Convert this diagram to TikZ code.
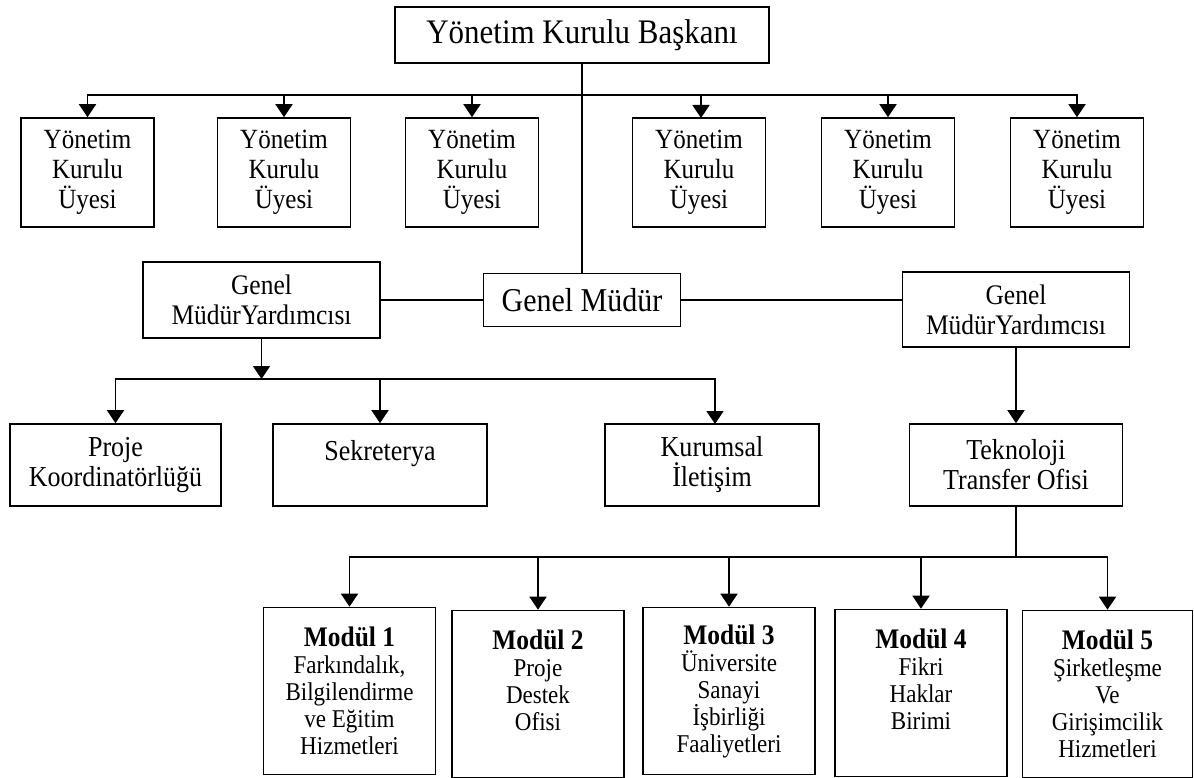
\documentclass[tikz,border=0pt]{standalone}
\usepackage{fontspec}
\setmainfont{Liberation Serif}[FakeStretch=0.9]
\usetikzlibrary{arrows.meta}
\begin{document}
\begin{tikzpicture}[x=1pt,y=-1pt,
  box/.style={draw, line width=1.6pt, inner sep=0pt, align=center},
  mem/.style={box, minimum width=133pt, minimum height=109pt, font=\fontsize{27.8}{30}\selectfont},
  mid/.style={box, minimum width=213pt, minimum height=82pt, font=\fontsize{28.9}{30}\selectfont},
  modbox/.style={box, minimum width=172pt, minimum height=167pt, font=\fontsize{25.6}{27}\selectfont},
  conn/.style={line width=1.7pt, line cap=rect},
  arr/.style={line width=1.7pt, -{Triangle[width=17pt,length=13pt]}}]
\useasboundingbox (0,0) rectangle (1194,778);

% top
\node[box, minimum width=374pt, minimum height=56pt, font=\fontsize{34.4}{38}\selectfont] (top) at (582,35) {Yönetim Kurulu Başkanı};

% members
\node[mem] (m1) at (87.5,172.5) {Yönetim\\Kurulu\\Üyesi};
\node[mem] (m2) at (284,172.5) {Yönetim\\Kurulu\\Üyesi};
\node[mem] (m3) at (472,172.5) {Yönetim\\Kurulu\\Üyesi};
\node[mem] (m4) at (699,172.5) {Yönetim\\Kurulu\\Üyesi};
\node[mem] (m5) at (888,172.5) {Yönetim\\Kurulu\\Üyesi};
\node[mem] (m6) at (1077,172.5) {Yönetim\\Kurulu\\Üyesi};

% general manager level
\node[box, minimum width=197pt, minimum height=53pt, font=\fontsize{33.3}{36}\selectfont] (gm) at (582,300) {Genel Müdür};
\node[box, minimum width=237pt, minimum height=76pt, font=\fontsize{28.3}{30}\selectfont] (gmyl) at (261.5,300) {Genel\\MüdürYardımcısı};
\node[box, minimum width=227pt, minimum height=75pt, font=\fontsize{28.3}{30}\selectfont] (gmyr) at (1016,309.5) {Genel\\MüdürYardımcısı};

% middle row
\node[mid, minimum width=211pt] (proje) at (115.5,465) {Proje\\Koordinatörlüğü};
\node[mid, minimum width=214pt] (sek) at (380,465) {Sekreterya\\\mbox{}};
\node[mid, minimum width=214pt] (kur) at (712,465) {Kurumsal\\İletişim};
\node[mid] (tto) at (1016,465) {Teknoloji\\Transfer Ofisi};

% modules
\node[modbox] (mod1) at (349.5,691) {\textbf{\fontsize{28.3}{27}\selectfont Modül 1}\\Farkındalık,\\Bilgilendirme\\ve Eğitim\\Hizmetleri};
\node[modbox] (mod2) at (538,694) {\textbf{\fontsize{28.3}{27}\selectfont Modül 2}\\Proje\\Destek\\Ofisi\\\mbox{}};
\node[modbox] (mod3) at (729,691) {\textbf{\fontsize{28.3}{27}\selectfont Modül 3}\\Üniversite\\Sanayi\\İşbirliği\\Faaliyetleri};
\node[modbox] (mod4) at (921,693) {\textbf{\fontsize{28.3}{27}\selectfont Modül 4}\\Fikri\\Haklar\\Birimi\\\mbox{}};
\node[modbox, minimum width=170pt] (mod5) at (1107.5,694) {\textbf{\fontsize{28.3}{27}\selectfont Modül 5}\\Şirketleşme\\Ve\\Girişimcilik\\Hizmetleri};

% connectors: board
\coordinate (b0) at (582,95);
\draw[conn] (top.south) -- (gm.north);
\draw[conn] (m1.north |- b0) -- (m6.north |- b0);
\foreach \m in {m1,m2,m3,m5,m6}
  \draw[arr] (\m.north |- b0) -- (\m.north);
\draw[arr] (701,95) -- (701,118);

% GM to deputies
\draw[conn] (gmyl.east) -- (gm.west);
\draw[conn] (gm.east) -- (gm.east -| gmyr.west);

% left deputy
\coordinate (b1) at (261.5,379);
\draw[arr] (gmyl.south) -- (b1);
\draw[conn] (proje.north |- b1) -- (715,379);
\draw[arr] (proje.north |- b1) -- (proje.north);
\draw[arr] (sek.north |- b1) -- (sek.north);
\draw[arr] (715,379) -- (715,424);

% right deputy
\draw[arr] (gmyr.south) -- (tto.north);
\coordinate (b2) at (1016,557);
\draw[conn] (tto.south) -- (b2);
\draw[conn] (mod1.north |- b2) -- (mod5.north |- b2);
\foreach \m in {mod1,mod2,mod3,mod4,mod5}
  \draw[arr] (\m.north |- b2) -- (\m.north);
\end{tikzpicture}
\end{document}
